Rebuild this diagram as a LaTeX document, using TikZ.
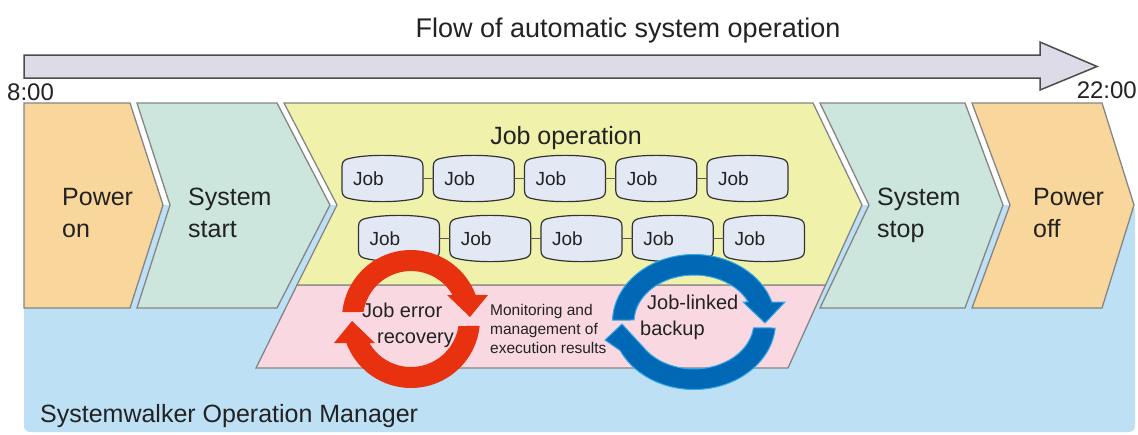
\documentclass[tikz,border=0pt]{standalone}
\usepackage{fontspec}
\setmainfont{Liberation Sans}
\usepackage{xcolor}
\usepackage{tikz}
\usetikzlibrary{positioning, calc}
\definecolor{pastelorange}{HTML}{F9D79C}
\definecolor{pastelteal}{HTML}{CCE6DD}
\definecolor{pastelyellow}{HTML}{F0F1AA}
\definecolor{pastelpink}{HTML}{F9D8E2}
\definecolor{skyblue}{HTML}{BDE0F5}
\definecolor{flowgray}{HTML}{DCDBE7}
\definecolor{jobblue}{HTML}{E3E8F5}
\definecolor{edgegray}{HTML}{858585}
\definecolor{errred}{HTML}{E8320F}
\definecolor{backblue}{HTML}{0068B5}
\definecolor{glowblue}{HTML}{34A8E8}
\definecolor{inkgray}{HTML}{222222}

\tikzset{
  chevron/.style={draw=edgegray, line width=1.3pt},
  flowarrow/.style={draw=black!70, fill=flowgray, line width=1.5pt},
  bigtext/.style={font=\fontsize{25}{32}\selectfont, text=inkgray, align=left, inner sep=0pt},
  midtext/.style={font=\fontsize{20}{26}\selectfont, text=inkgray, align=left, inner sep=0pt},
  smalltext/.style={font=\fontsize{15.5}{19}\selectfont, text=inkgray, align=left, inner sep=0pt},
  jobbox/.style={rectangle, minimum width=81pt, minimum height=47pt, inner xsep=11pt,
    text width=59pt, align=left, font=\fontsize{19}{22}\selectfont, text=inkgray},
  joblink/.style={draw=black!65, line width=1.5pt, shorten <=-0.6pt, shorten >=-0.6pt},
  barrel/.pic={\draw[draw=black!80, fill=jobblue, line width=1.2pt]
      (-40.5,12) -- (-40.5,-12) .. controls (-40.5,-18) and (-37,-19.5) .. (-31,-20.5)
      .. controls (-15,-24) and (15,-24) .. (31,-20.5)
      .. controls (37,-19.5) and (40.5,-18) .. (40.5,-12) -- (40.5,12)
      .. controls (40.5,18) and (37,19.5) .. (31,20.5)
      .. controls (15,24) and (-15,24) .. (-31,20.5)
      .. controls (-37,19.5) and (-40.5,18) .. (-40.5,12) -- cycle;},
}

\begin{document}
\begin{tikzpicture}[x=1pt, y=-1pt]
\useasboundingbox (0,0) rectangle (1138,434);

% time line
\draw[flowarrow] (24,55) -- (1040,55) -- (1040,42) -- (1097,66.5) -- (1040,90) -- (1040,78) -- (24,78) -- cycle;
\node[bigtext, font=\fontsize{27}{32}\selectfont, anchor=base] (flow) at (628,37) {Flow of automatic system operation};
\node[bigtext, font=\fontsize{24}{28}\selectfont, anchor=base west] (tstart) at (7,100) {8:00};
\node[bigtext, font=\fontsize{24}{28}\selectfont, anchor=base east] (tend) at (1137,98) {22:00};

% Systemwalker area
\fill[skyblue, rounded corners=6pt] (24,205) rectangle (1135,432);
\node[bigtext, anchor=base west] (swom) at (40,422) {Systemwalker Operation Manager};

% phases
\draw[chevron, fill=pastelorange] (24,103) -- (130,103) -- (163,205) -- (130,308) -- (24,308) -- cycle;
\draw[chevron, fill=pastelteal] (137,103) -- (277,103) -- (330,205) -- (277,308) -- (137,308) -- (170,205) -- cycle;
\draw[chevron, fill=pastelpink] (297,285) -- (825.5,285) -- (788,368) -- (256,368) -- cycle;
\draw[chevron, fill=pastelyellow] (284,103) -- (813,103) -- (862,205) -- (825.5,285) -- (297,285) -- (337,205) -- cycle;
\draw[chevron, fill=pastelteal] (820,103) -- (965,103) -- (1003,205) -- (965,308) -- (820,308) -- (869,205) -- cycle;
\draw[chevron, fill=pastelorange] (972,103) -- (1102,103) -- (1134,205) -- (1102,308) -- (972,308) -- (1010,205) -- cycle;

\node[bigtext, anchor=base west] (pon) at (62,237) {Power\\on};
\node[bigtext, anchor=base west] (sstart) at (188,237) {System\\start};
\node[bigtext, anchor=base west] (sstop) at (877,237) {System\\stop};
\node[bigtext, anchor=base west] (poff) at (1033,237) {Power\\off};
\node[bigtext, anchor=base] (jobop) at (566,144) {Job operation};

% job chains
\pgfmathsetmacro{\jobstep}{91.25}
\foreach \i in {1,...,5} {
  \pic at ({382.5+\jobstep*(\i-1)},178.5) {barrel};
  \node[jobbox] (a\i) at ({382.5+\jobstep*(\i-1)},178.5) {Job};
  \pic at ({399+\jobstep*(\i-1)},238.5) {barrel};
  \node[jobbox] (b\i) at ({399+\jobstep*(\i-1)},238.5) {Job};
}
\foreach \i/\j in {1/2,2/3,3/4,4/5} {
  \draw[joblink] (a\i) -- (a\j);
  \draw[joblink] (b\i) -- (b\j);
}

% job error recovery cycle
\begin{scope}[shift={(411,319)}]
  \fill[errred] (-174.2:69) arc[start angle=-174.2, end angle=-20.4, radius=69] -- (77,-24) -- (59,-2) -- (36,-24) -- (-30:48) arc[start angle=-30, end angle=-171.6, radius=48] -- cycle;
  \fill[errred] (5.8:69) arc[start angle=5.8, end angle=159.6, radius=69] -- (-77,24) -- (-59,2) -- (-36,24) -- (150:48) arc[start angle=150, end angle=8.4, radius=48] -- cycle;
\end{scope}

% job-linked backup cycle
\begin{scope}[shift={(694,322)}]
  \filldraw[draw=glowblue, fill=backblue, line width=1pt] (-178.5:81.5 and 67.5) arc[start angle=-178.5, end angle=-17.2, x radius=81.5, y radius=67.5] -- (91,-20) -- (71,1) -- (49,-20) -- (-25.2:60 and 47) arc[start angle=-25.2, end angle=-177.5, x radius=60, y radius=47] -- cycle;
  \filldraw[draw=glowblue, fill=backblue, line width=1pt] (5.1:81.5 and 67.5) arc[start angle=5.1, end angle=155, x radius=81.5, y radius=67.5] -- (-89,18) -- (-72,2) -- (148:60 and 47) arc[start angle=148, end angle=7.3, x radius=60, y radius=47] -- cycle;
\end{scope}

\node[midtext, anchor=base west] (errrec) at (362,343) {Job error\\\hspace*{15pt}recovery};
\node[smalltext, anchor=base west] (monitor) at (490,353) {Monitoring and\\management of\\execution results};
\node[midtext, anchor=base west] (backup) at (640,335) {\hspace*{7pt}Job-linked\\backup};

\end{tikzpicture}
\end{document}
